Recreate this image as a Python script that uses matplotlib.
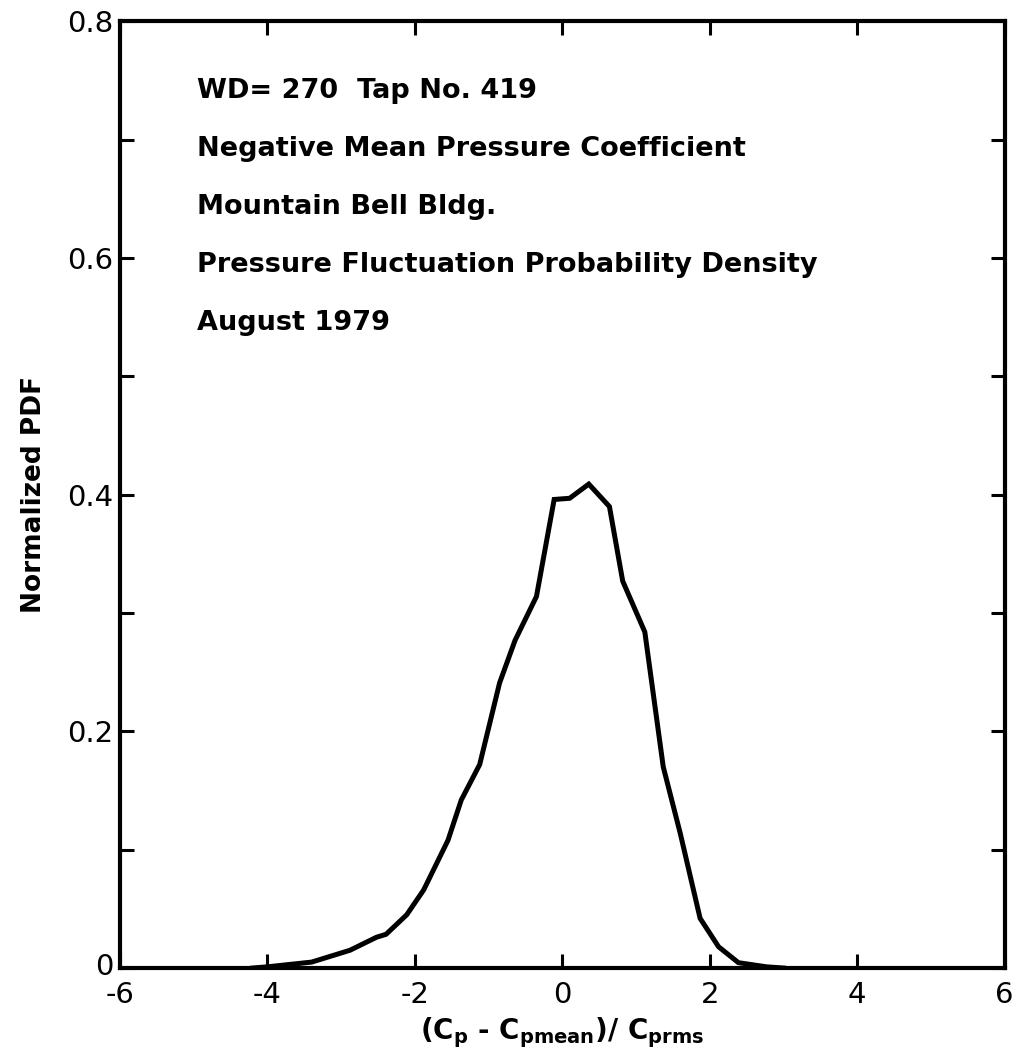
import matplotlib
matplotlib.use("Agg")
import matplotlib.pyplot as plt
from matplotlib.ticker import MultipleLocator
from matplotlib.transforms import ScaledTranslation

plt.rcParams['font.family'] = ['DejaVu Sans']

# curve
x_vals = [-4.2, -4.0, -3.4, -2.88, -2.52, -2.39, -2.11, -1.88, -1.55, -1.37, -1.12,
          -0.85, -0.64, -0.35, -0.11, 0.10, 0.36, 0.64, 0.82, 1.12, 1.37, 1.60,
          1.87, 2.12, 2.39, 2.77, 3.0]
pdf_vals = [0.0, 0.001, 0.005, 0.015, 0.026, 0.0285, 0.045, 0.066, 0.108, 0.142, 0.172,
            0.241, 0.277, 0.314, 0.396, 0.397, 0.409, 0.390, 0.327, 0.284, 0.170, 0.114,
            0.042, 0.018, 0.0045, 0.001, 0.0]

x_ticks = [-6, -4, -2, 0, 2, 4, 6]
y_ticks = [0, 0.2, 0.4, 0.6, 0.8]
y_labels = ["0", "0.2", "0.4", "0.6", "0.8"]

notes = ["WD= 270  Tap No. 419",
         "Negative Mean Pressure Coefficient",
         "Mountain Bell Bldg.",
         "Pressure Fluctuation Probability Density",
         "August 1979"]

fig = plt.figure(figsize=(10.15, 10.62), dpi=100)
ax = fig.add_axes([0.1182, 0.0885, 0.8715, 0.8913])

ax.plot(x_vals, pdf_vals, color="black", lw=3.6, solid_joinstyle="miter")

ax.set_xlim(-6, 6)
ax.set_ylim(0, 0.8)
ax.set_xticks(x_ticks)
ax.set_xticklabels([str(t) for t in x_ticks])
ax.set_yticks(y_ticks)
ax.set_yticklabels(y_labels)
ax.yaxis.set_minor_locator(MultipleLocator(0.1))

for s in ax.spines.values():
    s.set_linewidth(3)

ax.tick_params(which="both", direction="in", top=True, right=True,
               length=10, width=2.2, labelsize=21)
ax.tick_params(axis="x", pad=9)
ax.tick_params(axis="y", pad=5)
# nudge the "0" up a few pixels so it clears the "-6"
zero_lbl = ax.yaxis.get_major_ticks()[0].label1
zero_lbl.set_transform(zero_lbl.get_transform() + ScaledTranslation(0, 3 / 72, fig.dpi_scale_trans))

ax.set_ylabel("Normalized PDF", fontsize=19, fontweight="bold", labelpad=14)
ax.set_xlabel(r"(C$_\mathregular{p}$ - C$_\mathregular{pmean}$)/ C$_\mathregular{prms}$",
              fontsize=20, fontweight="bold", labelpad=5)

for i, line in enumerate(notes):
    ax.text(0.087, 0.927 - i * 0.0615, line, transform=ax.transAxes,
            fontsize=19.5, fontweight="bold", va="center", ha="left")

fig.savefig("out.png", dpi=100)
